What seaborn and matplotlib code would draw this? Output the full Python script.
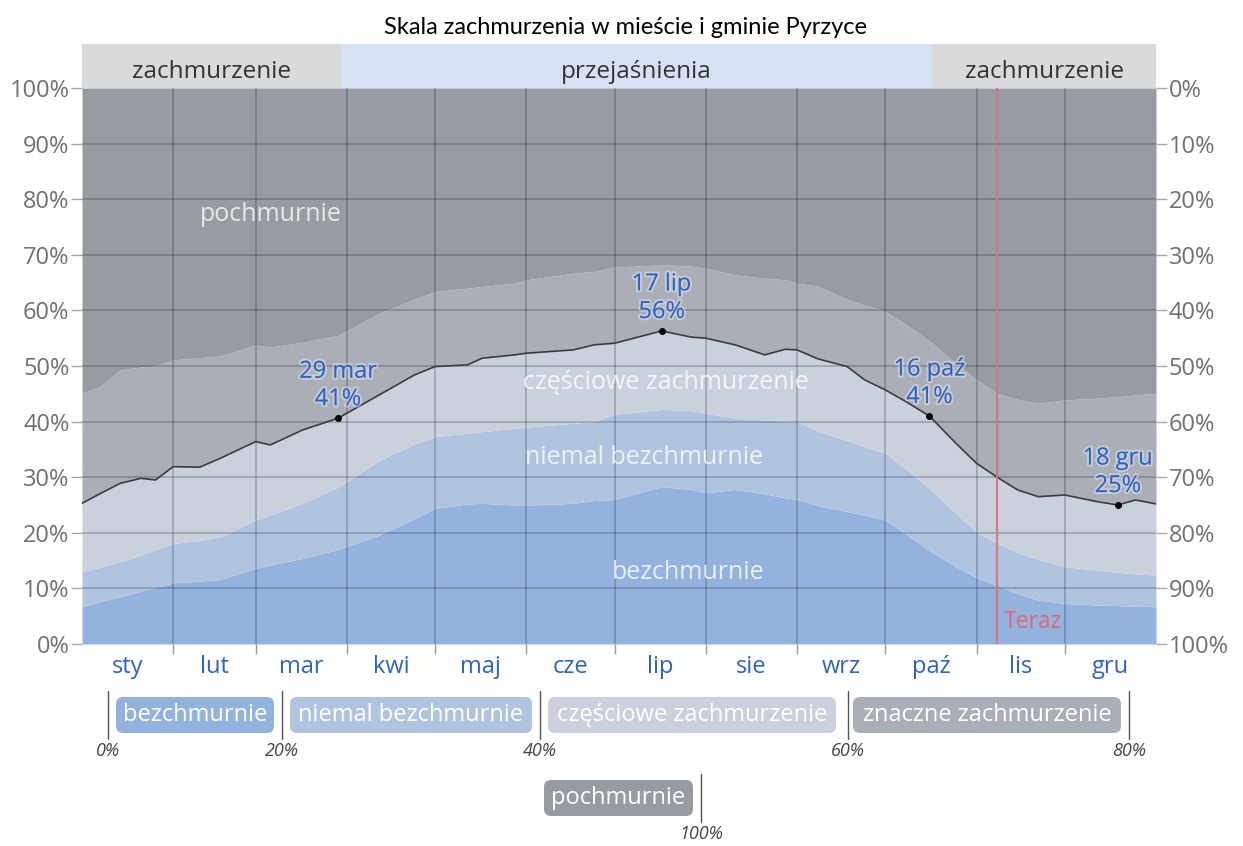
import numpy as np
import pandas as pd
import matplotlib
matplotlib.use("Agg")
import matplotlib.pyplot as plt
import matplotlib.patheffects as pe
from matplotlib.patches import FancyBboxPatch
import seaborn as sns

# ---------------- data ----------------
days = [0, 6, 13, 20, 25, 31, 40, 47, 59, 64, 75, 87, 101, 113, 120, 131, 136, 147, 151,
        167, 174, 181, 197, 207, 212, 222, 232, 239, 243, 250, 260, 266, 273, 280, 288,
        297, 304, 311, 318, 325, 334, 345, 352, 358, 365]

bezchmurnie = [6.7, 7.6, 8.5, 9.5, 10.2, 11.0, 11.3, 11.6, 13.6, 14.2, 15.4, 17.0, 19.6, 22.5,
               24.4, 25.2, 25.3, 25.0, 25.0, 25.3, 25.8, 26.0, 28.3, 27.8, 27.2, 27.8, 27.0,
               26.3, 26.0, 24.9, 23.8, 23.2, 22.3, 19.8, 16.8, 13.9, 11.9, 10.6, 9.0, 7.9,
               7.3, 7.0, 6.9, 6.8, 6.7]

niemal = [13.0, 13.8, 14.8, 16.0, 17.0, 18.1, 18.6, 19.3, 22.3, 23.2, 25.3, 28.2, 33.0, 36.0,
          37.3, 37.9, 38.2, 38.8, 39.0, 39.7, 40.0, 41.3, 42.2, 42.0, 41.5, 40.6, 40.3, 40.1,
          40.0, 38.3, 36.6, 35.5, 34.3, 31.5, 28.0, 23.5, 20.1, 18.1, 16.5, 15.2, 13.9, 13.3,
          12.9, 12.6, 12.4]

czesciowe = [25.3, 27.0, 28.9, 29.8, 29.5, 31.9, 31.8, 33.4, 36.4, 35.8, 38.5, 40.6, 44.8, 48.4,
             49.9, 50.2, 51.4, 52.0, 52.3, 52.9, 53.8, 54.1, 56.3, 55.2, 55.0, 53.8, 52.0, 53.0,
             52.9, 51.3, 49.9, 47.5, 45.7, 43.6, 41.0, 36.1, 32.5, 30.0, 27.7, 26.5, 26.8, 25.6,
             25.0, 25.9, 25.2]

znaczne = [45.1, 46.3, 49.3, 49.8, 50.0, 51.1, 51.5, 51.8, 53.8, 53.4, 54.3, 55.5, 59.5, 62.0,
           63.4, 64.0, 64.3, 64.9, 65.5, 66.7, 67.0, 67.8, 68.2, 68.0, 67.6, 66.4, 65.8, 65.5,
           64.9, 64.4, 62.0, 61.0, 59.8, 57.5, 54.5, 50.5, 47.5, 45.1, 44.0, 43.3, 43.9, 44.2,
           44.5, 44.8, 45.1]

month_labels = ["sty", "lut", "mar", "kwi", "maj", "cze", "lip", "sie", "wrz", "paź", "lis", "gru"]
month_starts = [0, 31, 59, 90, 120, 151, 181, 212, 243, 273, 304, 334, 365]

ann_labels = ["29 mar", "17 lip", "16 paź", "18 gru"]
ann_days = [87, 197, 288, 352]
ann_values = ["41%", "56%", "41%", "25%"]

band_edges = [0, 88, 289, 365]
band_labels = ["zachmurzenie", "przejaśnienia", "zachmurzenie"]

now_day = 311

legend_names = ["bezchmurnie", "niemal bezchmurnie", "częściowe zachmurzenie",
                "znaczne zachmurzenie", "pochmurnie"]
legend_ticks = ["0%", "20%", "40%", "60%", "80%", "100%"]

# ---------------- style ----------------
sns.set_theme(style="white")
plt.rcParams['font.family'] = ['Open Sans', 'DejaVu Sans']

c_bez = "#93B3DE"
c_niemal = "#B0C4E0"
c_czesc = "#CAD1DD"
c_znacz = "#AAAEB6"
c_poch = "#979BA2"
colors = [c_bez, c_niemal, c_czesc, c_znacz, c_poch]
blue_txt = "#2F62C8"
tick_gray = "#707070"

W, H = 1243, 846
fig = plt.figure(figsize=(W / 100, H / 100), dpi=100)
fig.patch.set_facecolor("white")

x0, x1, y0, y1 = 82, 1156, 88, 644
ax = fig.add_axes([x0 / W, 1 - y1 / H, (x1 - x0) / W, (y1 - y0) / H])

df = pd.DataFrame({"day": days, "bez": bezchmurnie, "niemal": niemal,
                   "czesc": czesciowe, "znacz": znaczne})

ax.fill_between(df.day, 0, df.bez, color=c_bez, lw=0)
ax.fill_between(df.day, df.bez, df.niemal, color=c_niemal, lw=0)
ax.fill_between(df.day, df.niemal, df.czesc, color=c_czesc, lw=0)
ax.fill_between(df.day, df.czesc, df.znacz, color=c_znacz, lw=0)
ax.fill_between(df.day, df.znacz, 100, color=c_poch, lw=0)

sns.lineplot(data=df, x="day", y="czesc", ax=ax, color="#3c3c3c", lw=1.2, zorder=5)

ax.set_xlim(0, 365)
ax.set_ylim(0, 100)

# grid
for yv in range(10, 100, 10):
    ax.axhline(yv, color="#000000", alpha=0.22, lw=1.2, zorder=3)
for d in month_starts[1:-1]:
    ax.axvline(d, color="#000000", alpha=0.22, lw=1.2, zorder=3)

# Teraz line
ax.axvline(now_day, color="#E0707A", lw=1.6, alpha=0.9, zorder=6)
ax.text(now_day + 2.3, 3.9, "Teraz", color="#E06878", fontsize=16.5, ha="left", va="center", zorder=7)

# annotations
for lab, d, v in zip(ann_labels, ann_days, ann_values):
    yv = df.loc[df.day == d, "czesc"].values[0]
    ax.scatter([d], [yv], s=16, color="black", zorder=8)
    ax.annotate(f"{lab}\n{v}", (d, yv), xytext=(0, 5), textcoords="offset points",
                ha="center", va="bottom", color=blue_txt, fontsize=17, linespacing=1.2,
                zorder=9, path_effects=[pe.withStroke(linewidth=3, foreground=(1, 1, 1, 0.35))])

# area labels
area_txt = dict(color="white", alpha=0.78, fontsize=18, ha="center", va="center", zorder=4)
ax.text(64, 77.2, "pochmurnie", **area_txt)
ax.text(198.5, 47.1, "częściowe zachmurzenie", **area_txt)
ax.text(191, 33.5, "niemal bezchmurnie", **area_txt)
ax.text(206, 12.9, "bezchmurnie", **area_txt)

# ticks
mids = [(a + b) / 2 for a, b in zip(month_starts[:-1], month_starts[1:])]
ax.set_xticks(mids)
ax.set_xticklabels(month_labels, color=blue_txt, fontsize=17)
ax.set_xticks(month_starts[1:-1], minor=True)
ax.tick_params(axis="x", which="major", length=0, pad=8)
ax.tick_params(axis="x", which="minor", length=7, color="#999999", width=1, bottom=True)
ax.set_yticks(range(0, 101, 10))
ax.set_yticklabels([f"{v}%" for v in range(0, 101, 10)], color=tick_gray, fontsize=17)
ax.tick_params(axis="y", length=8, color="#aaaaaa", width=1, left=True, pad=1)
ax.set_xlabel("")
ax.set_ylabel("")
for s in ax.spines.values():
    s.set_visible(False)

ax2 = ax.twinx()
ax2.set_ylim(100, 0)
ax2.set_yticks(range(0, 101, 10))
ax2.set_yticklabels([f"{v}%" for v in range(0, 101, 10)], color=tick_gray, fontsize=17)
ax2.tick_params(axis="y", length=8, color="#aaaaaa", width=1, right=True, pad=1)
for s in ax2.spines.values():
    s.set_visible(False)
ax2.grid(False)

# top band
axb = fig.add_axes([x0 / W, 1 - y0 / H, (x1 - x0) / W, 44 / H])
band_cols = ["#DADADC", "#D6E2F3", "#DADADC"]
for a, b, c, lab in zip(band_edges[:-1], band_edges[1:], band_cols, band_labels):
    axb.axvspan(a, b, color=c, lw=0)
    axb.text((a + b) / 2, 0.36, lab, ha="center", va="center", fontsize=17.5, color="#333333")
axb.set_xlim(0, 365)
axb.set_ylim(0, 1)
axb.axis("off")

# title
fig.text(625 / W, 1 - 27 / H, "Skala zachmurzenia w mieście i gminie Pyrzyce", ha="center",
         va="center", fontsize=17, color="black", family=["Lato", "DejaVu Sans"])

# legend
axl = fig.add_axes([0, 0, 1, 1], zorder=-1)
axl.set_xlim(0, W)
axl.set_ylim(H, 0)
axl.axis("off")

tick_x = [108, 282, 540, 848, 1129, 701]
box_spans = [(116, 274), (290, 532), (548, 836), (853, 1121), (544, 693)]
box_rows = [0, 0, 0, 0, 1]
row_y = [(697, 733), (780, 816)]
tick_rows = [0, 0, 0, 0, 0, 1]

for name, (bx0, bx1), r, c in zip(legend_names, box_spans, box_rows, colors):
    ya, yb = row_y[r]
    axl.add_patch(FancyBboxPatch((bx0 + 5, ya + 5), bx1 - bx0 - 10, yb - ya - 10,
                                 boxstyle="round,pad=5,rounding_size=7", fc=c, ec="none"))
    axl.text((bx0 + bx1) / 2, (ya + yb) / 2, name, ha="center", va="center",
             color="white", fontsize=17)
for lab, tx, r in zip(legend_ticks, tick_x, tick_rows):
    ya, yb = row_y[r]
    axl.plot([tx, tx], [ya - 6, yb + 6], color="#555555", lw=1)
    axl.text(tx, yb + 18, lab, ha="center", va="center", fontsize=13, style="italic",
             color="#444444")

fig.savefig("out.png", dpi=100)
